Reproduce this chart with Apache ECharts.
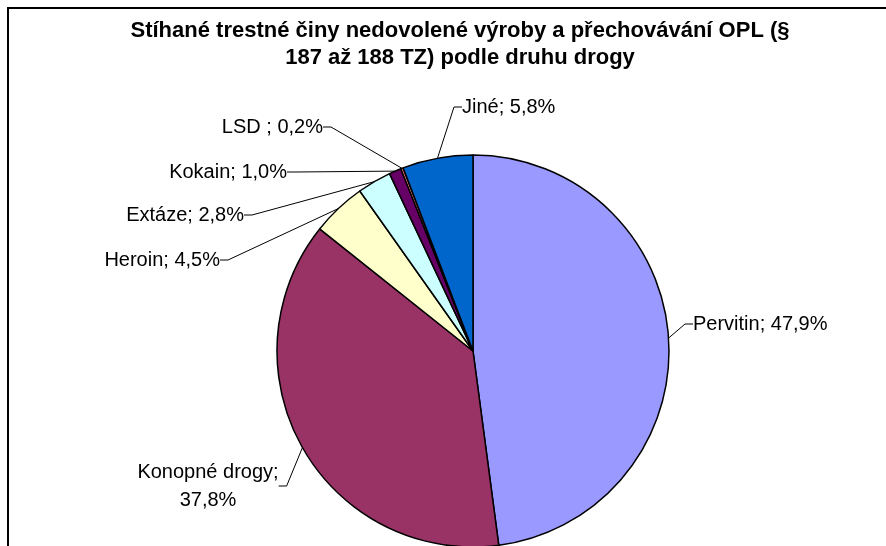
<!DOCTYPE html>
<html>
<head>
<meta charset="utf-8">
<script src="https://cdn.jsdelivr.net/npm/echarts@6/dist/echarts.min.js"></script>
<style>
  html, body { margin: 0; padding: 0; background: #fff; }
  #chart { width: 886px; height: 546px; }
</style>
</head>
<body>
<div id="chart"></div>
<script>
// druhy drog a jejich podíl (%)
const categories = ['Pervitin', 'Konopné drogy', 'Heroin', 'Extáze', 'Kokain', 'LSD ', 'Jiné'];
const shares = [47.9, 37.8, 4.5, 2.8, 1.0, 0.2, 5.8];
const colors = ['#9999FF', '#993366', '#FFFFCC', '#CCFFFF', '#660066', '#FF8080', '#0066CC'];

// umístění popisků (jako v původním grafu)
const labelSpots = [
  { x: 693, y: 324, align: 'left' },
  { x: 208, y: 486, align: 'center' },
  { x: 220, y: 260, align: 'right' },
  { x: 244, y: 215, align: 'right' },
  { x: 287, y: 172, align: 'right' },
  { x: 323, y: 127, align: 'right' },
  { x: 462, y: 107, align: 'left' }
];

const fmt = v => v.toFixed(1).replace('.', ',') + '%';

const chart = echarts.init(document.getElementById('chart'));
chart.setOption({
  animation: false,
  title: {
    text: 'Stíhané trestné činy nedovolené výroby a přechovávání OPL (§\n187 až 188 TZ) podle druhu drogy',
    left: 455,
    top: 12,
    textAlign: 'center',
    textStyle: {
      fontFamily: 'Liberation Sans, Arial, sans-serif',
      fontSize: 22,
      fontWeight: 'bold',
      color: '#000',
      lineHeight: 27
    }
  },
  graphic: [{
    type: 'rect',
    shape: { x: 8, y: 8, width: 1000, height: 1000 },
    style: { fill: 'none', stroke: '#000', lineWidth: 2 },
    silent: true
  }],
  series: [{
    type: 'pie',
    center: [473, 351],
    radius: 196,
    startAngle: 90,
    clockwise: true,
    avoidLabelOverlap: false,
    data: categories.map((c, i) => ({
      name: c,
      value: shares[i],
      itemStyle: { color: colors[i] }
    })),
    itemStyle: { borderColor: '#000', borderWidth: 1.5 },
    label: {
      show: true,
      formatter: p => p.dataIndex === 1 ? p.name + ';\n' + fmt(p.value) : p.name + '; ' + fmt(p.value),
      fontFamily: 'Liberation Sans, Arial, sans-serif',
      fontSize: 20,
      color: '#000',
      lineHeight: 28
    },
    labelLine: {
      show: true,
      length: 10,
      length2: 8,
      lineStyle: { color: '#000', width: 1 }
    },
    labelLayout: p => {
      const s = labelSpots[p.dataIndex];
      return { x: s.x, y: s.y, align: s.align, verticalAlign: 'middle' };
    },
    emphasis: { disabled: true }
  }]
});
</script>
</body>
</html>
